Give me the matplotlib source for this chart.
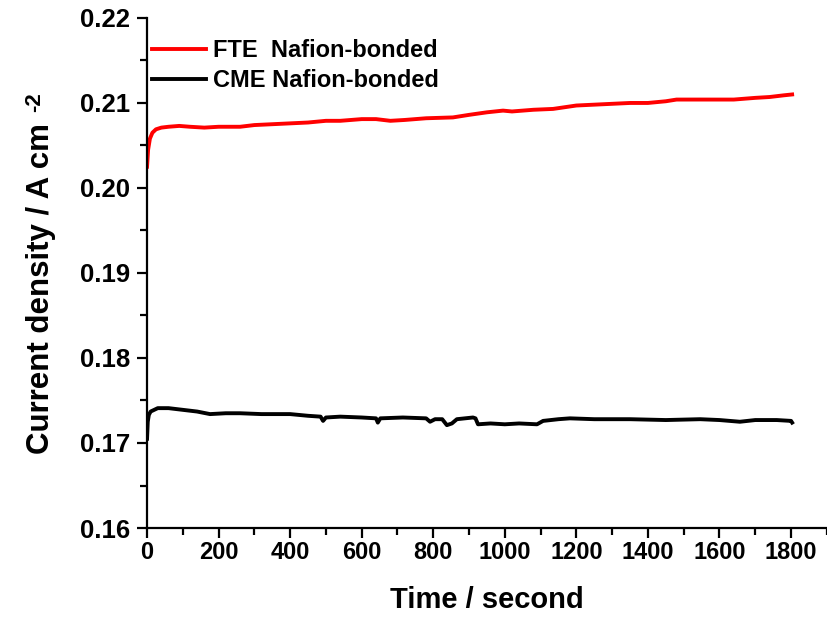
import matplotlib
matplotlib.use('Agg')
import matplotlib.pyplot as plt
from matplotlib.ticker import MultipleLocator

plt.rcParams['font.family'] = ['Liberation Sans', 'DejaVu Sans']
plt.rcParams['font.weight'] = 'bold'

# FTE electrode, Nafion-bonded
fte_time = [0, 3, 8, 15, 25, 40, 60, 90, 120, 160, 200, 260, 300, 350, 400,
            450, 500, 540, 600, 640, 680, 720, 780, 855, 900, 950, 995, 1020,
            1080, 1135, 1200, 1250, 1300, 1350, 1400, 1450, 1480, 1550, 1600,
            1640, 1700, 1740, 1780, 1803]
fte_current = [0.2025, 0.2045, 0.2058, 0.2065, 0.2069, 0.2071, 0.2072, 0.2073,
               0.2072, 0.2071, 0.2072, 0.2072, 0.2074, 0.2075, 0.2076, 0.2077,
               0.2079, 0.2079, 0.2081, 0.2081, 0.2079, 0.2080, 0.2082, 0.2083,
               0.2086, 0.2089, 0.2091, 0.2090, 0.2092, 0.2093, 0.2097, 0.2098,
               0.2099, 0.2100, 0.2100, 0.2102, 0.2104, 0.2104, 0.2104, 0.2104,
               0.2106, 0.2107, 0.2109, 0.2110]

# CME electrode, Nafion-bonded
cme_time = [0, 2, 5, 10, 20, 30, 60, 100, 140, 176, 220, 260, 320, 400, 450,
            485, 492, 500, 540, 600, 640, 645, 652, 715, 780, 791, 805, 825,
            838, 852, 866, 911, 918, 925, 960, 1000, 1040, 1090, 1107, 1150,
            1182, 1250, 1350, 1450, 1546, 1600, 1657, 1700, 1760, 1800, 1803]
cme_current = [0.1705, 0.1725, 0.1733, 0.1737, 0.1739, 0.1741, 0.1741, 0.1739,
               0.1737, 0.1734, 0.1735, 0.1735, 0.1734, 0.1734, 0.1732, 0.1731,
               0.1726, 0.1730, 0.1731, 0.1730, 0.1729, 0.1724, 0.1729, 0.1730,
               0.1729, 0.1725, 0.1728, 0.1728, 0.1721, 0.1723, 0.1728, 0.1730,
               0.1729, 0.1722, 0.1723, 0.1722, 0.1723, 0.1722, 0.1726, 0.1728,
               0.1729, 0.1728, 0.1728, 0.1727, 0.1728, 0.1727, 0.1725, 0.1727,
               0.1727, 0.1726, 0.1724]

fig = plt.figure(figsize=(8.27, 6.19), dpi=100)
ax = fig.add_axes([0.1778, 0.147, 0.822, 0.824])

ax.plot(fte_time, fte_current, color='#ff0000', lw=2.8, label='FTE  Nafion-bonded')
ax.plot(cme_time, cme_current, color='black', lw=2.8, label='CME Nafion-bonded')

ax.set_xlim(0, 1900)
ax.set_ylim(0.16, 0.22)
ax.xaxis.set_minor_locator(MultipleLocator(100))
ax.yaxis.set_major_locator(MultipleLocator(0.01))
ax.yaxis.set_minor_locator(MultipleLocator(0.005))
ax.set_xticks(range(0, 1801, 200))
ax.yaxis.set_major_formatter(plt.FormatStrFormatter('%.2f'))

for side in ['top', 'right']:
    ax.spines[side].set_visible(False)
for side in ['left', 'bottom']:
    ax.spines[side].set_linewidth(1.6)

ax.tick_params(which='major', direction='out', length=7, width=1.6)
ax.tick_params(which='minor', direction='out', length=5, width=1.6)
ax.tick_params(axis='y', which='major', labelsize=18.5, pad=5)
ax.tick_params(axis='x', which='major', labelsize=17, pad=2)

ax.set_xlabel('Time / second', fontsize=21, fontweight='bold', labelpad=16)

# y label drawn by hand so the exponent can be a plain hyphen
fig.text(41 / 827, 1 - 288 / 619, 'Current density / A cm', rotation=90,
         ha='center', va='center', fontsize=22.5, fontweight='bold')
fig.text(35 / 827, 1 - 102 / 619, '-2', rotation=90,
         ha='center', va='center', fontsize=16, fontweight='bold')

ax.legend(loc='upper left', bbox_to_anchor=(0.007, 0.959), frameon=False,
          fontsize=17, handlelength=2.3, handletextpad=0.3,
          labelspacing=0.3, borderpad=0, borderaxespad=0)

fig.savefig('out.png', dpi=100)
